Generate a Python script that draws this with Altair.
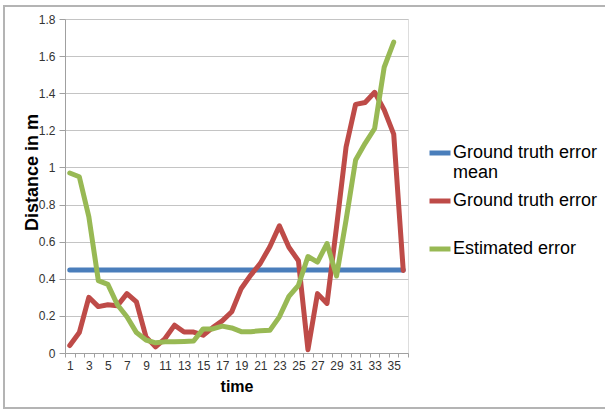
import altair as alt
import pandas as pd

times = list(range(1, 37))
gt_error = [0.04, 0.11, 0.30, 0.25, 0.26, 0.255, 0.32, 0.275, 0.087, 0.033,
            0.078, 0.15, 0.113, 0.113, 0.096, 0.137, 0.173, 0.222, 0.348, 0.42,
            0.483, 0.573, 0.685, 0.57, 0.497, 0.018, 0.32, 0.267, 0.68, 1.11,
            1.34, 1.35, 1.405, 1.31, 1.18, 0.445]
est_error = [0.97, 0.95, 0.735, 0.39, 0.37, 0.26, 0.195, 0.11, 0.07, 0.055,
             0.06, 0.06, 0.062, 0.065, 0.13, 0.13, 0.145, 0.135, 0.115, 0.115,
             0.12, 0.122, 0.195, 0.305, 0.365, 0.52, 0.49, 0.59, 0.415, 0.717,
             1.04, 1.13, 1.21, 1.54, 1.675]
gt_mean = 0.447
series_names = ["Ground truth error mean", "Ground truth error", "Estimated error"]
colors = ["#4A7EBB", "#BE4B48", "#98B954"]
y_ticks = [0, 0.2, 0.4, 0.6, 0.8, 1, 1.2, 1.4, 1.6, 1.8]
x_labels = list(range(1, 37, 2))
x_ticks = [t - 0.5 for t in times] + [36.5]

rows = []
for t in times:
    rows.append({"time": t, "series": series_names[0], "value": gt_mean})
for t, v in zip(times, gt_error):
    rows.append({"time": t, "series": series_names[1], "value": v})
for t, v in zip(times, est_error):
    rows.append({"time": t, "series": series_names[2], "value": v})
df = pd.DataFrame(rows)

W, H = 343, 334
PL, PT = 65, 19

color_scale = alt.Scale(domain=series_names, range=colors)
x_scale = alt.Scale(domain=[0.5, 36.5], nice=False, zero=False)
y_scale = alt.Scale(domain=[0, 1.8], nice=False)

y_axis = alt.Axis(values=y_ticks, format="~g", grid=True, gridColor="#c4c4c4",
                  gridWidth=1, domainColor="#a0a0a0", tickColor="#a0a0a0",
                  tickSize=6, labelPadding=4, labelFontSize=12,
                  labelColor="#333333", labelFont="Liberation Sans",
                  title="Distance in m", titleFontSize=18, titleFont="Liberation Sans",
                  titleFontWeight="bold", titleColor="#000000",
                  titleX=-28, titleY=153, titleBaseline="alphabetic")

x_axis_labels = alt.Axis(orient="bottom", values=x_labels, ticks=False, domain=True,
                         domainColor="#a0a0a0", grid=False, labelPadding=7,
                         labelFontSize=12, labelColor="#333333",
                         labelFont="Liberation Sans", title="time",
                         titleFontSize=16, titleFont="Liberation Sans",
                         titleFontWeight="bold", titleColor="#000000",
                         titleY=38, titleBaseline="alphabetic")
x_axis_ticks = alt.Axis(orient="bottom", values=x_ticks, labels=False, ticks=True,
                        tickSize=4, tickColor="#a0a0a0", domain=False, grid=False,
                        title=None)

legend = alt.Legend(title=None, orient="none", legendX=W + 19, legendY=121,
                    symbolType="stroke", symbolStrokeWidth=5, symbolSize=441,
                    labelFontSize=18, labelFont="Liberation Sans",
                    labelColor="#000000", labelLimit=300, rowPadding=6,
                    labelOffset=0,
                    labelExpr="datum.label == 'Ground truth error mean' ? ['Ground truth error', 'mean'] : [datum.label, ' ']")


def series_layer(name, axis, with_legend):
    return alt.Chart(df).transform_filter(
        alt.datum.series == name
    ).mark_line(strokeWidth=5, strokeCap="round", strokeJoin="round").encode(
        x=alt.X("time:Q", scale=x_scale, axis=axis),
        y=alt.Y("value:Q", scale=y_scale, axis=y_axis),
        color=alt.Color("series:N", scale=color_scale,
                        legend=legend if with_legend else None),
    )


blue = series_layer(series_names[0], x_axis_ticks, True)
red = series_layer(series_names[1], x_axis_labels, False)
green = series_layer(series_names[2], None, False)

frame = alt.Chart(alt.Data(values=[{}])).mark_rect(
    fill=None, stroke="#b4b4b4", strokeWidth=2
).encode(
    x=alt.value(4 - PL), x2=alt.value(640 - PL),
    y=alt.value(6 - PT), y2=alt.value(408 - PT),
)

chart = alt.layer(frame, blue, red, green).resolve_axis(x="independent").properties(
    width=W, height=H,
    autosize=alt.AutoSizeParams(type="none"),
    padding={"left": PL, "top": PT, "right": 605 - PL - W, "bottom": 412 - PT - H},
).configure_view(stroke=None).configure(background="white")

chart.save("out.html", embed_options={"renderer": "svg", "actions": False})
